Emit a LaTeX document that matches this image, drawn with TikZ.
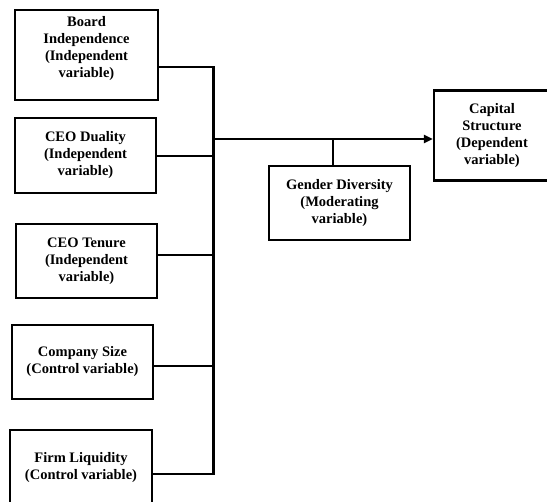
\documentclass[tikz,border=0pt]{standalone}
\usepackage{fontspec}
\setmainfont{Liberation Serif}
\usetikzlibrary{arrows.meta}
\tikzset{
  box/.style={draw, line width=2.3pt, align=center, inner sep=0pt,
    font=\bfseries\fontsize{14.5}{17}\selectfont},
  txt/.style={align=center, inner sep=0pt, font=\bfseries\fontsize{14.5}{17}\selectfont},
  conn/.style={line width=2.2pt}
}
\begin{document}
\begin{tikzpicture}[x=1pt,y=-1pt]
\useasboundingbox (0,0) rectangle (547,502);
% boxes
\node[box, minimum width=143, minimum height=90] (b1) at (86.5,55) {};
\node[txt] (b1t) at ([yshift=6pt]b1.center) {Board\\Independence\\(Independent\\variable)};
\node[box, minimum width=141, minimum height=75] (b2) at (85.5,155.5) {CEO Duality\\(Independent\\variable)};
\node[box, minimum width=141, minimum height=74] (b3) at (86.5,261) {CEO Tenure\\(Independent\\variable)};
\node[box, minimum width=141, minimum height=74] (b4) at (82.5,362) {Company Size\\(Control variable)};
\node[box, minimum width=142, minimum height=76] (b5) at (81,468) {Firm Liquidity\\(Control variable)};
\node[box, minimum width=116, minimum height=90] (cap) at (492,135.5) {Capital\\Structure\\(Dependent\\variable)};
\node[box, minimum width=141, minimum height=74] (gen) at (339.5,203) {Gender Diversity\\(Moderating\\variable)};
% bus coordinates
\coordinate (j1) at (213.5,67);
\coordinate (j2) at (213.5,156);
\coordinate (j3) at (213.5,255);
\coordinate (j4) at (213.5,366);
\coordinate (j5) at (213.5,474);
\coordinate (jm) at (213.5,139);
\coordinate (jg) at (333,139);
% connectors
\draw[conn] (b1.east |- j1) -- (j1) -- (j5) -- (b5.east |- j5);
\draw[conn] (b2.east |- j2) -- (j2);
\draw[conn] (b3.east |- j3) -- (j3);
\draw[conn] (b4.east |- j4) -- (j4);
\draw[conn, -{Triangle[length=9pt,width=8pt]}] (jm) -- (cap.west |- jm);
\draw[conn] (gen.north -| jg) -- (jg);
\end{tikzpicture}
\end{document}
